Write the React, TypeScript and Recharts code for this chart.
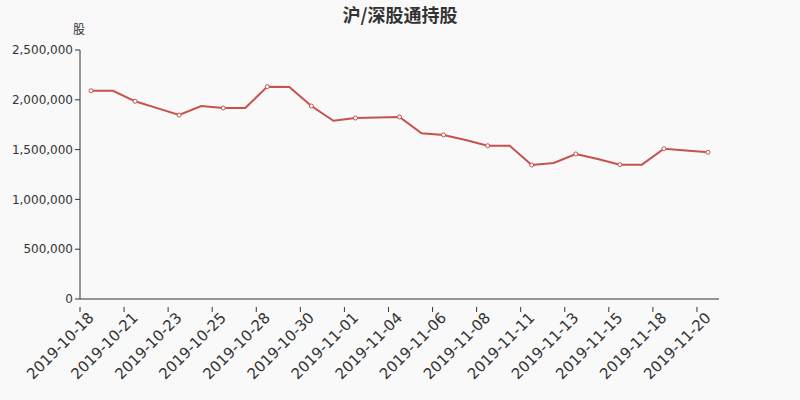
import React from 'react';
import { LineChart, Line, XAxis, YAxis } from 'recharts';

const dates = [
  '2019-10-18', '2019-10-19', '2019-10-21', '2019-10-22', '2019-10-23', '2019-10-24', '2019-10-25', '2019-10-26',
  '2019-10-28', '2019-10-29', '2019-10-30', '2019-10-31', '2019-11-01', '2019-11-02', '2019-11-04', '2019-11-05',
  '2019-11-06', '2019-11-07', '2019-11-08', '2019-11-09', '2019-11-11', '2019-11-12', '2019-11-13', '2019-11-14',
  '2019-11-15', '2019-11-16', '2019-11-18', '2019-11-19', '2019-11-20',
];

const holdings = [
  2091000, 2091000, 1985000, 1916000, 1847000, 1938000, 1918000, 1918000,
  2132000, 2128000, 1938000, 1790000, 1817000, 1822000, 1827000, 1663000,
  1647000, 1596000, 1539000, 1539000, 1345000, 1365000, 1456000, 1406000,
  1349000, 1349000, 1509000, 1491000, 1473000,
];

const yTicks = [0, 500000, 1000000, 1500000, 2000000, 2500000];

const title = '沪/深股通持股';
const yUnit = '股';

const data = dates.map((d, i) => ({ date: d, value: holdings[i] }));

const fmt = (v: number) => v.toLocaleString('en-US');

const XTick = (props: any) => {
  const { x, y, payload } = props;
  const off = payload && payload.offset ? payload.offset : 0;
  return (
    <g transform={`translate(${x},${y})`}>
      <line x1={-off} y1={0} x2={-off} y2={5} stroke="#333" strokeWidth={1} />
      <text
        x={0}
        y={0}
        dy="0.35em"
        transform="translate(0,8) rotate(-45)"
        textAnchor="end"
        fill="#333"
        fontSize={15}
        fontFamily="DejaVu Sans, sans-serif"
      >
        {payload.value}
      </text>
    </g>
  );
};

const renderDot = (props: any) => {
  const { cx, cy, index } = props;
  if (index % 2 !== 0) return <g key={`d${index}`} />;
  return <circle key={`d${index}`} cx={cx} cy={cy} r={2} fill="#fff" stroke="#c7514d" strokeWidth={1} />;
};

export default function App() {
  return (
    <div style={{ position: 'absolute', left: 0, top: 0, width: 800, height: 400, background: '#f9f9f9' }}>
      <div
        style={{
          position: 'absolute', left: 0, top: 1, width: 800, textAlign: 'center',
          fontSize: 18, fontWeight: 'bold', color: '#333',
          fontFamily: '"Noto Sans CJK SC", sans-serif',
        }}
      >
        {title}
      </div>
      <div
        style={{
          position: 'absolute', left: 73, top: 20, fontSize: 12, color: '#333',
          fontFamily: '"Noto Sans CJK SC", sans-serif',
        }}
      >
        {yUnit}
      </div>
      <LineChart
        width={800}
        height={400}
        data={data}
        margin={{ top: 50, right: 81, bottom: 11, left: 8 }}
      >
        <XAxis
          dataKey="date"
          scale="band"
          interval={1}
          height={90}
          tickLine={false}
          axisLine={{ stroke: '#333' }}
          tick={<XTick />}
        />
        <YAxis
          width={72}
          domain={[0, 2500000]}
          ticks={yTicks}
          tickFormatter={fmt}
          axisLine={{ stroke: '#333' }}
          tickLine={{ stroke: '#333' }}
          tickSize={5}
          tick={{ fill: '#333', fontSize: 12, fontFamily: 'DejaVu Sans, sans-serif' }}
        />
        <Line
          type="linear"
          dataKey="value"
          stroke="#c7514d"
          strokeWidth={2}
          dot={renderDot}
          activeDot={false}
          isAnimationActive={false}
        />
      </LineChart>
    </div>
  );
}
